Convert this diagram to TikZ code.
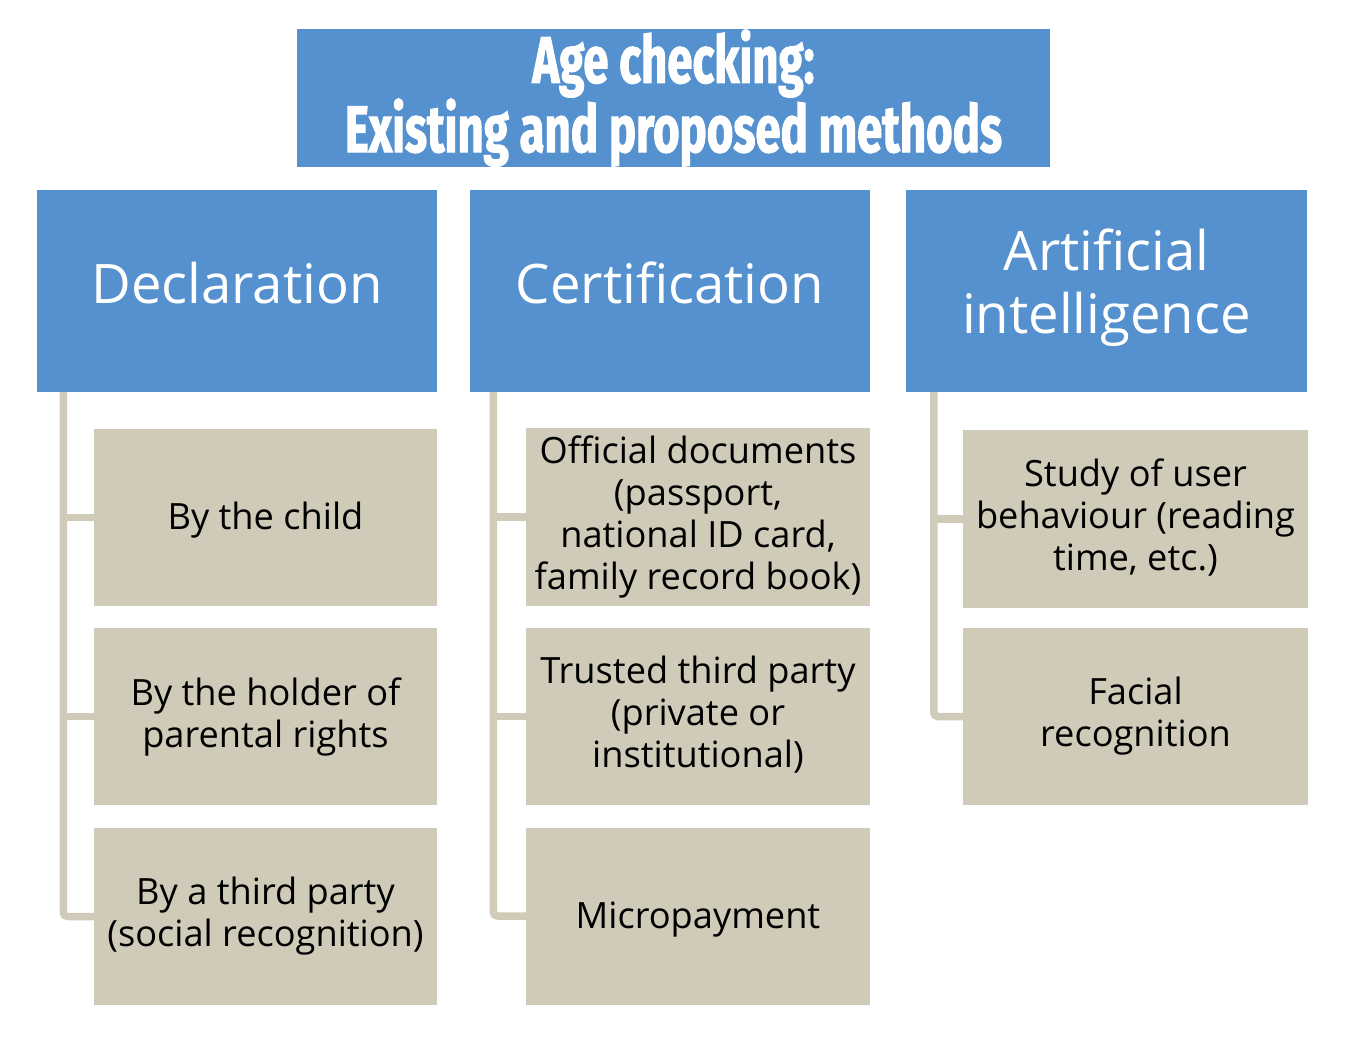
\documentclass[tikz,border=0pt]{standalone}
\usepackage{fontspec}
\setmainfont{Open Sans}
\newfontfamily\titlefont[FakeStretch=0.69, BoldFeatures={FakeBold=1.5}]{Fira Sans}
\newcommand\leafstrut{\rule[-8.6pt]{0pt}{42pt}}
\definecolor{headblue}{RGB}{85,145,206}
\definecolor{leaftan}{RGB}{208,203,185}

\begin{document}
\begin{tikzpicture}[x=1pt, y=-1pt,
  titlebox/.style={fill=headblue, text=white, inner sep=0pt, align=center,
    font=\titlefont\bfseries\fontsize{66}{60}\selectfont,
    minimum width=753pt, minimum height=130pt},
  headbox/.style={fill=headblue, text=white, inner sep=0pt, align=center,
    font=\fontsize{54.5}{63}\selectfont, minimum width=400pt, minimum height=202pt,
    execute at begin node=\strut, execute at end node=\strut},
  leafbox/.style={fill=leaftan, text=black, inner sep=0pt, align=center,
    font=\fontsize{36.2}{42}\selectfont, minimum width=343pt, minimum height=177pt,
    execute at begin node=\leafstrut, execute at end node=\leafstrut},
  trunk/.style={draw=leaftan, line width=7.5pt, rounded corners=4pt}]
  \useasboundingbox (0,0) rectangle (1345,1056);

  % title and the three methods
  \node[titlebox] (title) at (673.5,98)
    {\rule[-10pt]{0pt}{60pt}Age checking:\\Existing and proposed methods\rule[-10pt]{0pt}{60pt}};
  \node[headbox] (decl) at (237,291) {Declaration};
  \node[headbox] (cert) at (670,291) {Certification};
  \node[headbox, minimum width=401pt] (ai) at (1106.5,291) {Artificial\\intelligence};

  % leaves
  \node[leafbox] (decl-1) at (265.5,517.5) {By the child};
  \node[leafbox] (decl-2) at (265.5,716.5) {By the holder of\\parental rights};
  \node[leafbox] (decl-3) at (265.5,916.5) {By a third party\\(social recognition)};
  \node[leafbox, minimum width=344pt] (cert-1) at (698,517) {Official documents\\(passport,\\national ID card,\\family record book)};
  \node[leafbox, minimum width=344pt] (cert-2) at (698,716.5) {Trusted third party\\(private or\\institutional)};
  \node[leafbox, minimum width=344pt] (cert-3) at (698,916) {Micropayment};
  \node[leafbox, minimum width=345pt] (ai-1) at (1135.5,519) {Study of user\\behaviour (reading\\time, etc.)};
  \node[leafbox, minimum width=345pt] (ai-2) at (1135.5,716.5) {Facial\\recognition};

  \coordinate (decl-trunk) at ([xshift=26.5pt]decl.south west);
  \coordinate (cert-trunk) at ([xshift=23.5pt]cert.south west);
  \coordinate (ai-trunk) at ([xshift=28pt]ai.south west);

  \draw[trunk] (decl-trunk) |- (decl-3.west);
  \draw[trunk] (cert-trunk) |- (cert-3.west);
  \draw[trunk] (ai-trunk) |- (ai-2.west);
  \foreach \i in {1,2}
    \draw[trunk] (decl-\i.west) -- (decl-\i.west -| decl-trunk)
                 (cert-\i.west) -- (cert-\i.west -| cert-trunk);
  \draw[trunk] (ai-1.west) -- (ai-1.west -| ai-trunk);
\end{tikzpicture}
\end{document}
